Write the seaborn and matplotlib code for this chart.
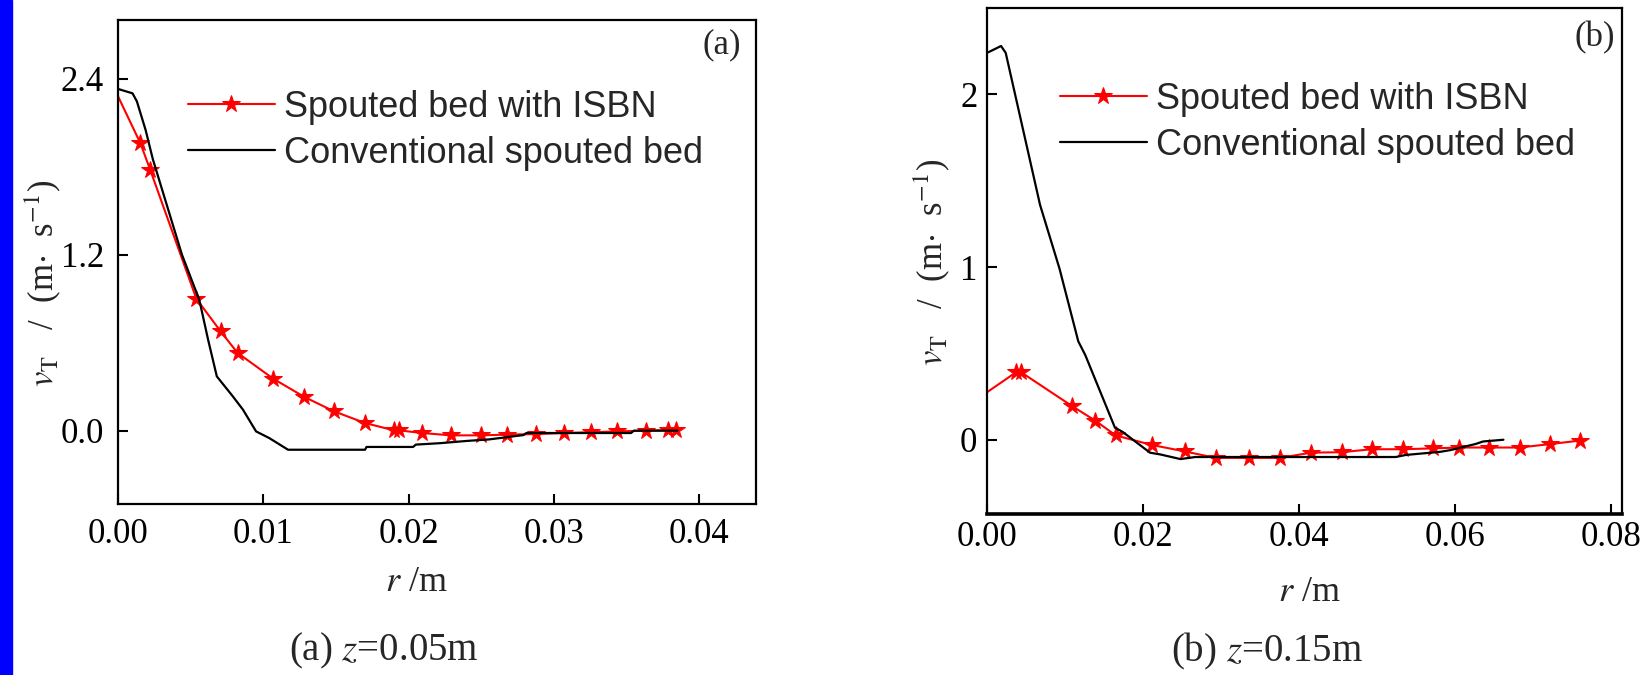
import numpy as np
import pandas as pd
import matplotlib
matplotlib.use("Agg")
import matplotlib.pyplot as plt
import seaborn as sns

# ---------------- data ----------------
# panel (a) z = 0.05 m
a_isbn_r = [0.0, 0.00154, 0.00221, 0.00539, 0.00706, 0.00823, 0.01067, 0.01282, 0.01486,
            0.01700, 0.01900, 0.01934, 0.02093, 0.02293, 0.02497, 0.02679, 0.02879,
            0.03066, 0.03252, 0.03434, 0.03635, 0.03786, 0.03837]
a_isbn_v = [2.28, 1.96, 1.78, 0.90, 0.677, 0.53, 0.355, 0.23, 0.132,
            0.052, 0.002, 0.002, -0.016, -0.032, -0.032, -0.027, -0.023,
            -0.016, -0.011, -0.005, 0.0, 0.003, 0.003]
a_conv_r = [0.0, 0.0010, 0.0013, 0.0019, 0.0024, 0.0044, 0.0056, 0.0062, 0.0068, 0.0079,
            0.0086, 0.0095, 0.0104, 0.0117, 0.0170, 0.0171, 0.0203, 0.0205, 0.0222,
            0.0240, 0.0255, 0.0279, 0.0281, 0.0353, 0.0355, 0.0385]
a_conv_v = [2.33, 2.30, 2.245, 2.05, 1.85, 1.20, 0.89, 0.62, 0.37, 0.234,
            0.143, -0.005, -0.05, -0.13, -0.13, -0.111, -0.111, -0.095, -0.085,
            -0.07, -0.06, -0.03, -0.016, -0.016, 0.0, 0.0]

# panel (b) z = 0.15 m
b_isbn_r = [0.0, 0.0037, 0.0044, 0.0109, 0.0139, 0.0165, 0.0211, 0.0254, 0.0293, 0.0336,
            0.0376, 0.0415, 0.0455, 0.0493, 0.0533, 0.0572, 0.0605, 0.0644, 0.0683,
            0.0722, 0.0760]
b_isbn_v = [0.275, 0.39, 0.39, 0.195, 0.11, 0.025, -0.03, -0.068, -0.105, -0.105,
            -0.105, -0.075, -0.072, -0.055, -0.055, -0.05, -0.045, -0.045, -0.045,
            -0.025, -0.005]
b_conv_r = [0.0, 0.0018, 0.0024, 0.0042, 0.0068, 0.0093, 0.0117, 0.0126, 0.0164, 0.0174,
            0.0209, 0.0222, 0.0248, 0.0267, 0.0524, 0.0537, 0.0581, 0.0594, 0.0626,
            0.0636, 0.0662]
b_conv_v = [2.24, 2.28, 2.24, 1.88, 1.36, 0.99, 0.57, 0.49, 0.07, 0.045,
            -0.075, -0.085, -0.112, -0.10, -0.10, -0.088, -0.07, -0.06, -0.025,
            -0.01, 0.0]

series_labels = ["Spouted bed with ISBN", "Conventional spouted bed"]
a_xticks = [0.00, 0.01, 0.02, 0.03, 0.04]
a_yticks = [0.0, 1.2, 2.4]
b_xticks = [0.00, 0.02, 0.04, 0.06, 0.08]
b_yticks = [0, 1, 2]
panel_tags = ["(a)", "(b)"]
captions = [r"(a) $z$=0.05m", r"(b) $z$=0.15m"]
xlabel = r"$r$ /m"
ylabel = r"$v_{\mathrm{T}}$   /  (m$\cdot$  s$^{-1}$)"

# ---------------- style ----------------
sns.set_theme(style="white")
plt.rcParams["font.family"] = ["Liberation Serif", "DejaVu Serif"]
plt.rcParams["mathtext.fontset"] = "stix"
plt.rcParams["axes.linewidth"] = 1.6

W, H = 1641, 675
fig = plt.figure(figsize=(W / 100, H / 100), dpi=100)
fig.patch.set_facecolor("white")

# blue strip at left edge
fig.patches.append(matplotlib.patches.Rectangle((0, 0), 12 / W, 1, transform=fig.transFigure,
                                                color="#0000FF", zorder=0))


def frac_box(l, t, r, b):
    return [l / W, 1 - b / H, (r - l) / W, (b - t) / H]


ax_a = fig.add_axes(frac_box(118, 20, 756, 504))
ax_b = fig.add_axes(frac_box(987, 8, 1622, 514))

panels = [
    dict(ax=ax_a, ir=a_isbn_r, iv=a_isbn_v, cr=a_conv_r, cv=a_conv_v,
         xlim=(0, 0.0439), ylim=(-0.5, 2.8), xt=a_xticks, yt=a_yticks,
         xfmt="{:.2f}", yfmt="{:.1f}", xpad=10, ypad=10,
         tag_xy=(722, 45), ylab_x=43, ylab_y=283, xlab=(416, 566),
         leg=(188, 90), cap=(384, 651)),
    dict(ax=ax_b, ir=b_isbn_r, iv=b_isbn_v, cr=b_conv_r, cv=b_conv_v,
         xlim=(0, 0.0814), ylim=(-0.43, 2.5), xt=b_xticks, yt=b_yticks,
         xfmt="{:.2f}", yfmt="{:d}", xpad=5, ypad=7,
         tag_xy=(1595, 38), ylab_x=932, ylab_y=262, xlab=(1309, 576),
         leg=(1060, 82), cap=(1267, 651)),
]

for i, p in enumerate(panels):
    ax = p["ax"]
    df_i = pd.DataFrame({"r": p["ir"], "v": p["iv"]})
    df_c = pd.DataFrame({"r": p["cr"], "v": p["cv"]})
    sns.lineplot(data=df_i, x="r", y="v", ax=ax, color="#FF0000", lw=1.5,
                 marker="*", markersize=13, markeredgecolor="#FF0000",
                 markevery=list(range(1, len(df_i))), estimator=None, sort=False,
                 label=series_labels[0])
    sns.lineplot(data=df_c, x="r", y="v", ax=ax, color="black", lw=1.6,
                 estimator=None, sort=False, label=series_labels[1])
    ax.set_xlim(*p["xlim"])
    ax.set_ylim(*p["ylim"])
    ax.set_xticks(p["xt"])
    ax.set_xticklabels([p["xfmt"].format(v) for v in p["xt"]])
    ax.set_yticks(p["yt"])
    ax.set_yticklabels([p["yfmt"].format(v) for v in p["yt"]])
    ax.tick_params(axis="both", direction="in", length=7, width=1.5, labelsize=25,
                   colors="black", top=False, right=False, bottom=True, left=True)
    ax.tick_params(axis="x", pad=p["xpad"])
    ax.tick_params(axis="y", pad=p["ypad"])
    for s in ax.spines.values():
        s.set_color("black")
        s.set_linewidth(1.6)
    if i == 1:
        ax.spines["bottom"].set_linewidth(2.6)

    l, b_, w, h = ax.get_position().bounds
    x0, x1 = l * W, (l + w) * W
    y_top, y_bot = (1 - (b_ + h)) * H, (1 - b_) * H

    ax.set_xlabel(xlabel, fontsize=26, va="top")
    ax.xaxis.set_label_coords((p["xlab"][0] - x0) / (x1 - x0),
                              (y_bot - p["xlab"][1]) / (y_bot - y_top))
    ax.set_ylabel(ylabel, fontsize=25, va="center")
    ax.yaxis.set_label_coords((p["ylab_x"] - x0) / (x1 - x0),
                              (y_bot - p["ylab_y"]) / (y_bot - y_top))

    ax.text((p["tag_xy"][0] - x0) / (x1 - x0), (y_bot - p["tag_xy"][1]) / (y_bot - y_top),
            panel_tags[i], transform=ax.transAxes, ha="center", va="center", fontsize=25)

    leg = ax.legend(loc="upper left",
                    bbox_to_anchor=((p["leg"][0] - x0) / (x1 - x0),
                                    (y_bot - p["leg"][1]) / (y_bot - y_top)),
                    frameon=False, borderpad=0, borderaxespad=0, handlelength=2.4,
                    handletextpad=0.25, labelspacing=0.3,
                    prop={"family": "Liberation Sans", "size": 26})

    fig.text(p["cap"][0] / W, 1 - p["cap"][1] / H, captions[i], ha="center", va="center",
             fontsize=28)

fig.savefig("out.png", dpi=100, facecolor="white")
